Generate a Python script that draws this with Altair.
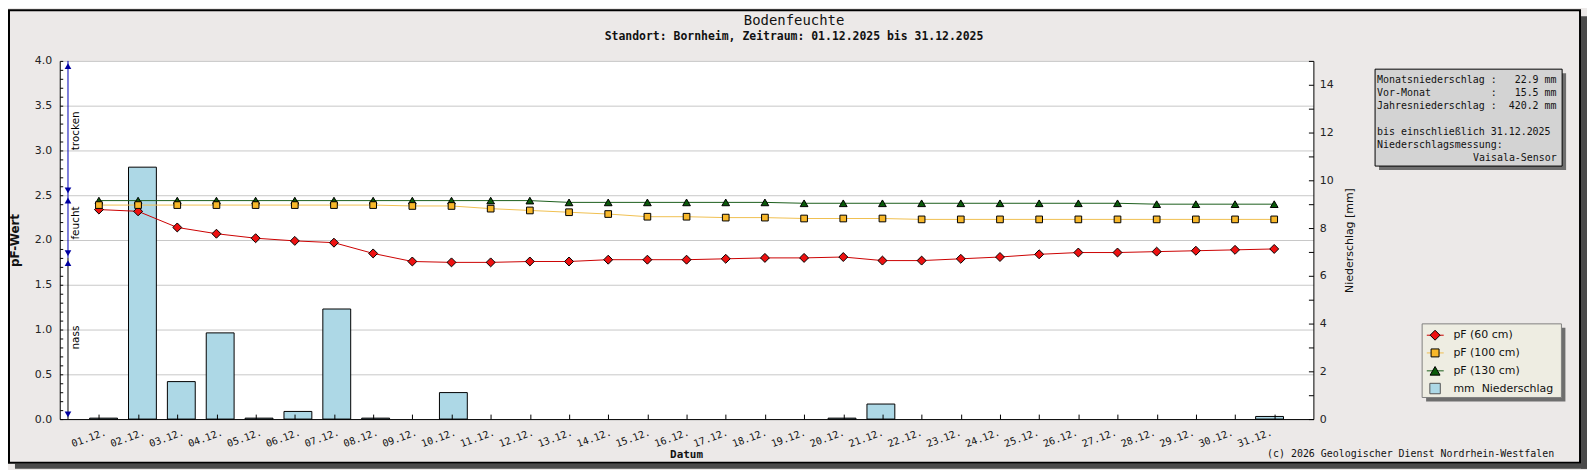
import json
import altair as alt
import pandas as pd

# ---------------- data ----------------
dates = ["01.12.", "02.12.", "03.12.", "04.12.", "05.12.", "06.12.", "07.12.", "08.12.",
         "09.12.", "10.12.", "11.12.", "12.12.", "13.12.", "14.12.", "15.12.", "16.12.",
         "17.12.", "18.12.", "19.12.", "20.12.", "21.12.", "22.12.", "23.12.", "24.12.",
         "25.12.", "26.12.", "27.12.", "28.12.", "29.12.", "30.12.", "31.12."]
days = list(range(1, 32))

rain_mm = [0.04, 10.55, 1.57, 3.61, 0.04, 0.32, 4.61, 0.04, 0.0, 1.11,
           0.0, 0.0, 0.0, 0.0, 0.0, 0.0, 0.0, 0.0, 0.0, 0.04,
           0.63, 0.0, 0.0, 0.0, 0.0, 0.0, 0.0, 0.0, 0.0, 0.0, 0.11]

pf_60 = [2.34, 2.32, 2.14, 2.07, 2.02, 1.99, 1.97, 1.85, 1.76, 1.75,
         1.75, 1.76, 1.76, 1.78, 1.78, 1.78, 1.79, 1.80, 1.80, 1.81,
         1.77, 1.77, 1.79, 1.81, 1.84, 1.86, 1.86, 1.87, 1.88, 1.89, 1.90]
pf_100 = [2.39, 2.39, 2.39, 2.39, 2.39, 2.39, 2.39, 2.39, 2.38, 2.38,
          2.35, 2.33, 2.31, 2.29, 2.26, 2.26, 2.25, 2.25, 2.24, 2.24,
          2.24, 2.23, 2.23, 2.23, 2.23, 2.23, 2.23, 2.23, 2.23, 2.23, 2.23]
pf_130 = [2.44, 2.44, 2.44, 2.44, 2.44, 2.44, 2.44, 2.44, 2.44, 2.44,
          2.44, 2.44, 2.42, 2.42, 2.42, 2.42, 2.42, 2.42, 2.41, 2.41,
          2.41, 2.41, 2.41, 2.41, 2.41, 2.41, 2.41, 2.40, 2.40, 2.40, 2.40]

series_names = ["pF (60 cm)", "pF (100 cm)", "pF (130 cm)"]
rain_name = "mm\u00a0\u00a0Niederschlag"

zone_names = ["trocken", "feucht", "nass"]
zone_lo = [2.5, 1.8, 0.0]
zone_hi = [4.0, 2.5, 1.8]
zone_label_pf = [3.22, 2.19, 0.91]

pf_label_values = [0.0, 0.5, 1.0, 1.5, 2.0, 2.5, 3.0, 3.5, 4.0]
pf_tick_values = [round(i / 10, 1) for i in range(41)]
rain_label_values = [0, 2, 4, 6, 8, 10, 12, 14]
rain_tick_values = list(range(16))

title_text = "Bodenfeuchte"
subtitle_text = "Standort: Bornheim, Zeitraum: 01.12.2025 bis 31.12.2025"
x_title = "Datum"
y_title = "pF-Wert"
y2_title = "Niederschlag [mm]"
copyright_text = "(c) 2026 Geologischer Dienst Nordrhein-Westfalen"
info_lines = [
    "Monatsniederschlag :   22.9 mm",
    "Vor-Monat          :   15.5 mm",
    "Jahresniederschlag :  420.2 mm",
    "",
    "bis einschließlich 31.12.2025",
    "Niederschlagsmessung:",
    "                Vaisala-Sensor",
]

# ---------------- styles ----------------
series_line = ["#CC0000", "#F0C050", "#1B5E1B"]
series_fill = ["#EE1111", "#F8B82A", "#0A5A0A"]
series_shape = ["diamond", "square", "triangle-up"]
series_size = [81, 45, 60]
legend_size = [100, 64, 100]
zone_colors = ["#0000B4", "#0000B4", "#000000"]
BG = "#ECE9E8"
MONO = "DejaVu Sans Mono"
SANS = "DejaVu Sans"

PW, PH = 1260, 360

rain_df = pd.DataFrame({"day": days, "date": dates, "rain": rain_mm})
pf_dfs = [pd.DataFrame({"day": days, "pf": vals}) for vals in (pf_60, pf_100, pf_130)]
zone_df = pd.DataFrame({"zone": zone_names, "lo": zone_lo, "hi": zone_hi,
                        "lab": zone_label_pf, "col": zone_colors})
one = pd.DataFrame({"k": [0]})

XS = alt.Scale(domain=[0, 32], nice=False, zero=False)
PFS = alt.Scale(domain=[0, 4], nice=False)
RS = alt.Scale(domain=[0, 15], nice=False)

label_expr = json.dumps(dates) + "[datum.value - 1]"

x_label_axis = alt.Axis(orient="bottom", values=days, labelExpr=label_expr, labelAngle=-20,
                        labelAlign="right", labelBaseline="top", labelPadding=8,
                        labelFont=MONO, labelFontSize=10, labelColor="#111111",
                        labelOverlap=False, labelFlush=False, ticks=False, tickSize=0,
                        domain=True, domainColor="black", grid=False, title=None, zindex=1)
x_tick_axis = alt.Axis(orient="top", offset=-PH, values=days, labels=False, domain=False,
                       ticks=True, tickSize=5, tickColor="black", grid=False, title=None, zindex=1)
pf_label_axis = alt.Axis(orient="left", values=pf_label_values, format=".1f",
                         labelFont=SANS, labelFontSize=11, labelColor="#222222", labelPadding=8,
                         ticks=False, tickSize=0, domain=True, domainColor="black",
                         grid=True, gridColor="#C8C8C8", gridWidth=1,
                         title=y_title, titleFont=SANS, titleFontSize=12, titleFontWeight="bold",
                         titleColor="#111111", titleX=-45, titleY=PH / 2, titleAngle=270,
                         titleAlign="center", titleBaseline="middle", zindex=0)
pf_tick_axis = alt.Axis(orient="right", offset=-PW, values=pf_tick_values, labels=False,
                        domain=False, ticks=True, tickSize=3, tickColor="black", grid=False,
                        title=None, zindex=1)
rain_label_axis = alt.Axis(orient="right", values=rain_label_values, format="d",
                           labelFont=SANS, labelFontSize=11, labelColor="#222222", labelPadding=6,
                           ticks=False, tickSize=0, domain=True, domainColor="black", grid=False,
                           title=y2_title, titleFont=SANS, titleFontSize=11, titleFontWeight="normal",
                           titleColor="#111111", titleX=36, titleY=PH / 2, titleAngle=270,
                           titleAlign="center", titleBaseline="middle", zindex=1)
rain_tick_axis = alt.Axis(orient="left", offset=-PW, values=rain_tick_values, labels=False,
                          domain=False, ticks=True, tickSize=5, tickColor="black", grid=False,
                          title=None, zindex=1)


def box(x1, x2, y1, y2, **kw):
    return alt.Chart(one).mark_rect(**kw).encode(
        x=alt.value(x1), x2=alt.value(x2), y=alt.value(y1), y2=alt.value(y2))


def label(text, x, y, **kw):
    return alt.Chart(pd.DataFrame({"t": [text]})).mark_text(**kw).encode(
        x=alt.value(x), y=alt.value(y), text="t:N")


layers = []

# frame + shadow
layers.append(box(1529, 1535, -45, 410, fill="#4A4A4A"))
layers.append(box(-45, 1535, 405, 410, fill="#4A4A4A"))
layers.append(box(-51, 1528, -51, 404, fill="transparent", stroke="black", strokeWidth=2))

# bars (days without precipitation draw nothing)
layers.append(alt.Chart(rain_df).transform_filter("datum.rain > 0").mark_bar(
    size=28, fill="#ADD8E6", stroke="black", strokeWidth=1).encode(
    x=alt.X("day:Q", scale=XS, axis=x_label_axis),
    y=alt.Y("rain:Q", scale=RS, axis=rain_label_axis),
))
# inward ticks for x and rain axes
layers.append(alt.Chart(rain_df).mark_point(opacity=0).encode(
    x=alt.X("day:Q", scale=XS, axis=x_tick_axis),
    y=alt.Y("rain:Q", scale=RS, axis=rain_tick_axis),
))

# lines
for i, df in enumerate(pf_dfs):
    layers.append(alt.Chart(df).mark_line(color=series_line[i], strokeWidth=1).encode(
        x=alt.X("day:Q", scale=XS, axis=None),
        y=alt.Y("pf:Q", scale=PFS, axis=pf_label_axis if i == 0 else None),
    ))

# points (order: 60, 130, 100)
for n, i in enumerate([0, 2, 1]):
    layers.append(alt.Chart(pf_dfs[i]).mark_point(
        shape=series_shape[i], filled=True, fill=series_fill[i], stroke="black",
        strokeWidth=1, size=series_size[i], opacity=1).encode(
        x=alt.X("day:Q", scale=XS, axis=None),
        y=alt.Y("pf:Q", scale=PFS, axis=pf_tick_axis if n == 0 else None),
    ))

# moisture zones on the left
layers.append(alt.Chart(zone_df).mark_rule(strokeWidth=1).encode(
    x=alt.value(8.3),
    y=alt.Y("lo:Q", scale=PFS, axis=None), y2="hi:Q",
    color=alt.Color("col:N", scale=None),
))
layers.append(alt.Chart(zone_df).mark_point(shape="triangle-up", filled=True, color="#0000A0",
                                            size=45, opacity=1).encode(
    x=alt.value(8.3), y=alt.Y("hi:Q", scale=PFS, axis=None), yOffset=alt.value(5.3)))
layers.append(alt.Chart(zone_df).mark_point(shape="triangle-down", filled=True, color="#0000A0",
                                            size=45, opacity=1).encode(
    x=alt.value(8.3), y=alt.Y("lo:Q", scale=PFS, axis=None), yOffset=alt.value(-4.8)))
layers.append(alt.Chart(zone_df).mark_text(angle=270, align="center", baseline="middle",
                                           font=SANS, fontSize=10.5, color="black").encode(
    x=alt.value(16.7), y=alt.Y("lab:Q", scale=PFS, axis=None), text="zone:N"))

# titles and footer
layers.append(label(title_text, 738, -40.5, font=MONO, fontSize=14, color="#111111",
                    align="center", baseline="middle"))
layers.append(label(subtitle_text, 738, -24, font=MONO, fontSize=11.5, fontWeight="bold",
                    color="#111111", align="center", baseline="middle"))
layers.append(label(x_title, 630, 396, font=MONO, fontSize=11, fontWeight="bold",
                    color="#111111", align="center", baseline="middle"))
layers.append(label(copyright_text, 1502, 395, font=MONO, fontSize=10, color="#111111",
                    align="right", baseline="middle"))

# info box
layers.append(box(1326, 1514, 12.3, 109.7, fill="#6E6E6E"))
layers.append(box(1322, 1510, 8.3, 105.7, fill="#D3D3D3", stroke="black", strokeWidth=1))
INFO_X, CHAR_W = 1324, 6.02
for i, line in enumerate(info_lines):
    if not line:
        continue
    if line.startswith(" "):
        # right-aligned entry: end at the column where the full-width lines end
        layers.append(label(line.strip(), INFO_X + len(line) * CHAR_W, 19.5 + 13 * i, font=MONO,
                            fontSize=10, color="#111111", align="right", baseline="middle"))
    else:
        layers.append(label(line.replace(" ", "\u00a0"), INFO_X, 19.5 + 13 * i, font=MONO,
                            fontSize=10, color="#111111", align="left", baseline="middle"))

# legend box
layers.append(box(1373.3, 1513.3, 268.3, 342.3, fill="#6E6E6E"))
layers.append(box(1369.3, 1509.3, 264.3, 338.3, fill="#EEEDE2", stroke="#808080", strokeWidth=1))
legend_y = [275.7, 293.5, 311.5, 329.3]
for i, name in enumerate(series_names):
    yy = legend_y[i]
    layers.append(alt.Chart(one).mark_rule(color=series_line[i], strokeWidth=1).encode(
        x=alt.value(1374), x2=alt.value(1391), y=alt.value(yy)))
    layers.append(alt.Chart(one).mark_point(shape=series_shape[i], filled=True, fill=series_fill[i],
                                            stroke="black", strokeWidth=1, size=legend_size[i],
                                            opacity=1).encode(
        x=alt.value(1382.3), y=alt.value(yy)))
    layers.append(label(name, 1400.7, yy, font=SANS, fontSize=11, color="#111111",
                        align="left", baseline="middle"))
layers.append(alt.Chart(one).mark_point(shape="square", filled=True, fill="#ADD8E6", stroke="#555555",
                                        strokeWidth=1, size=110, opacity=1).encode(
    x=alt.value(1382.3), y=alt.value(legend_y[3])))
layers.append(label(rain_name, 1400.7, legend_y[3], font=SANS, fontSize=11, color="#111111",
                    align="left", baseline="middle"))

chart = alt.layer(*layers).resolve_scale(x="independent", y="independent").properties(
    width=PW, height=PH,
    autosize=alt.AutoSizeParams(type="none"),
    padding={"left": 52, "top": 52, "right": 275, "bottom": 50},
).configure(background=BG).configure_view(fill="white", stroke="transparent")

chart.save("out.html", embed_options={"renderer": "svg", "actions": False})
